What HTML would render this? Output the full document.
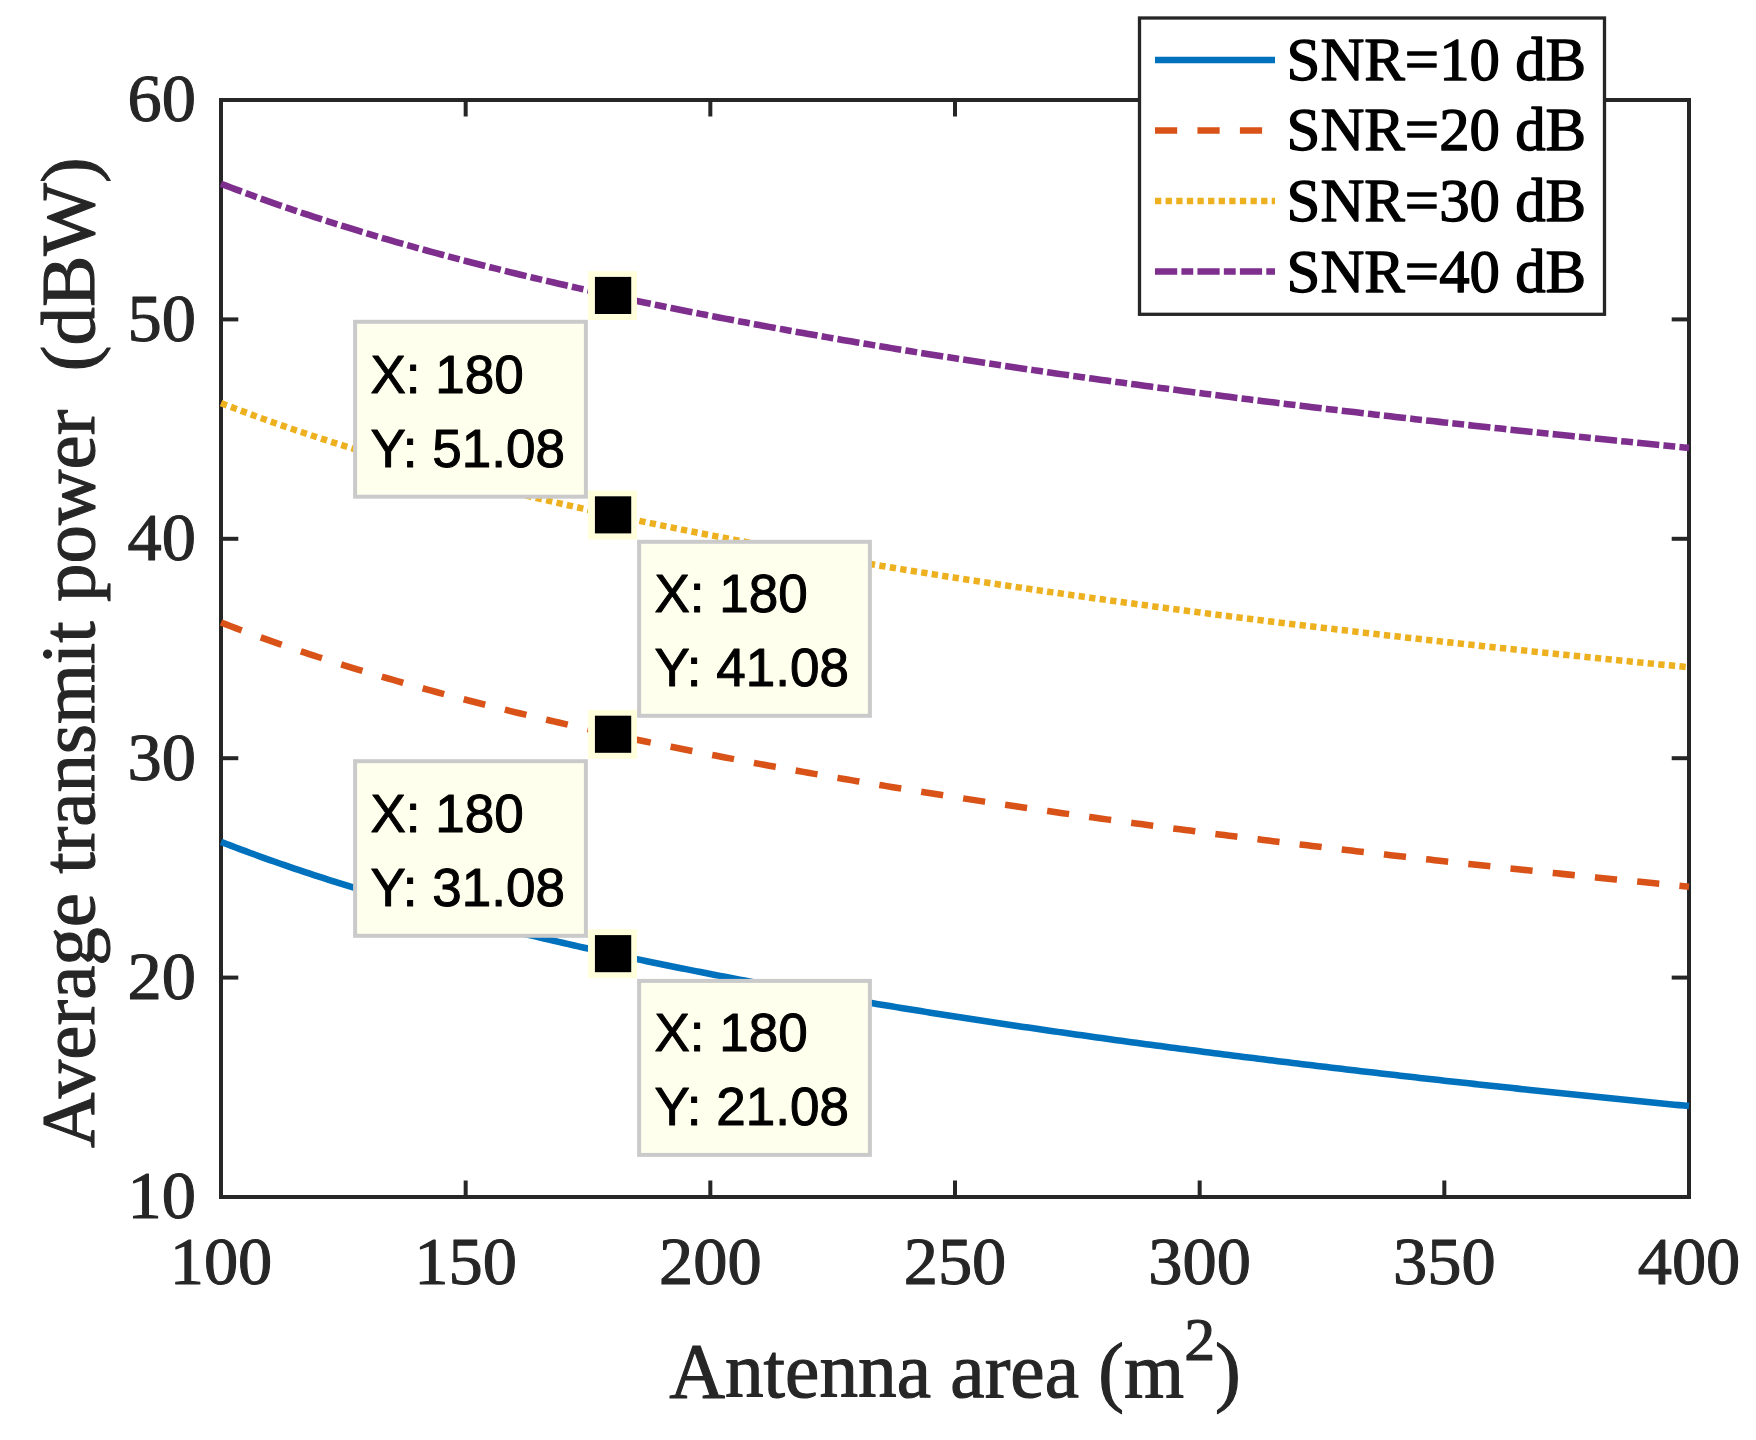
<!DOCTYPE html>
<html lang="en"><head><meta charset="utf-8"><title>Average transmit power vs antenna area</title>
<style>html,body{margin:0;padding:0;background:#fff;}body{width:1756px;height:1440px;overflow:hidden;}svg{display:block;}.t{font-family:"Liberation Serif","Times New Roman",serif;fill:#262626;stroke:#262626;stroke-width:1.1px;stroke-linejoin:round;}.g{font-family:"Liberation Serif","Times New Roman",serif;fill:#000;stroke:#000;stroke-width:1.3px;stroke-linejoin:round;}.d{font-family:"Liberation Sans",Arial,sans-serif;fill:#000;stroke:#000;stroke-width:1.0px;stroke-linejoin:round;}</style></head><body>
<svg width="1756" height="1440" viewBox="0 0 1756 1440">
<rect x="0" y="0" width="1756" height="1440" fill="#ffffff"/>
<g stroke="#262626" stroke-width="4.0" fill="none" stroke-linecap="butt">
<rect x="221.0" y="100.0" width="1468.0" height="1097.0"/>
<line x1="465.67" y1="1197.0" x2="465.67" y2="1180.50"/>
<line x1="465.67" y1="100.0" x2="465.67" y2="116.50"/>
<line x1="710.33" y1="1197.0" x2="710.33" y2="1180.50"/>
<line x1="710.33" y1="100.0" x2="710.33" y2="116.50"/>
<line x1="955.00" y1="1197.0" x2="955.00" y2="1180.50"/>
<line x1="955.00" y1="100.0" x2="955.00" y2="116.50"/>
<line x1="1199.67" y1="1197.0" x2="1199.67" y2="1180.50"/>
<line x1="1199.67" y1="100.0" x2="1199.67" y2="116.50"/>
<line x1="1444.33" y1="1197.0" x2="1444.33" y2="1180.50"/>
<line x1="1444.33" y1="100.0" x2="1444.33" y2="116.50"/>
<line x1="221.0" y1="977.60" x2="238.30" y2="977.60"/>
<line x1="1689.0" y1="977.60" x2="1671.70" y2="977.60"/>
<line x1="221.0" y1="758.20" x2="238.30" y2="758.20"/>
<line x1="1689.0" y1="758.20" x2="1671.70" y2="758.20"/>
<line x1="221.0" y1="538.80" x2="238.30" y2="538.80"/>
<line x1="1689.0" y1="538.80" x2="1671.70" y2="538.80"/>
<line x1="221.0" y1="319.40" x2="238.30" y2="319.40"/>
<line x1="1689.0" y1="319.40" x2="1671.70" y2="319.40"/>
</g>
<g class="t" font-size="68.4" text-anchor="middle">
<text x="221.00" y="1283.8">100</text>
<text x="465.67" y="1283.8">150</text>
<text x="710.33" y="1283.8">200</text>
<text x="955.00" y="1283.8">250</text>
<text x="1199.67" y="1283.8">300</text>
<text x="1444.33" y="1283.8">350</text>
<text x="1689.00" y="1283.8">400</text>
</g>
<g class="t" font-size="68.4" text-anchor="end">
<text x="196" y="1218.40">10</text>
<text x="196" y="999.00">20</text>
<text x="196" y="779.60">30</text>
<text x="196" y="560.20">40</text>
<text x="196" y="340.80">50</text>
<text x="196" y="121.40">60</text>
</g>
<text class="t" font-size="77.3" text-anchor="middle" x="955" y="1396.6">Antenna area (m<tspan font-size="61.84" dy="-37">2</tspan><tspan dy="37">)</tspan></text>
<text class="t" font-size="77.0" text-anchor="middle" xml:space="preserve" transform="translate(94.2,652.7) rotate(-90)">Average transmit power  (dBW)</text>
<path d="M221.00 841.89 L225.89 843.79 L230.79 845.66 L235.68 847.52 L240.57 849.37 L245.47 851.19 L250.36 853.00 L255.25 854.78 L260.15 856.56 L265.04 858.31 L269.93 860.05 L274.83 861.78 L279.72 863.49 L284.61 865.18 L289.51 866.86 L294.40 868.53 L299.29 870.18 L304.19 871.81 L309.08 873.43 L313.97 875.04 L318.87 876.64 L323.76 878.22 L328.65 879.79 L333.55 881.34 L338.44 882.88 L343.33 884.42 L348.23 885.93 L353.12 887.44 L358.01 888.93 L362.91 890.42 L367.80 891.89 L372.69 893.35 L377.59 894.80 L382.48 896.24 L387.37 897.66 L392.27 899.08 L397.16 900.49 L402.05 901.88 L406.95 903.27 L411.84 904.65 L416.73 906.01 L421.63 907.37 L426.52 908.72 L431.41 910.05 L436.31 911.38 L441.20 912.70 L446.09 914.01 L450.99 915.31 L455.88 916.60 L460.77 917.89 L465.67 919.16 L470.56 920.43 L475.45 921.68 L480.35 922.93 L485.24 924.18 L490.13 925.41 L495.03 926.63 L499.92 927.85 L504.81 929.06 L509.71 930.26 L514.60 931.46 L519.49 932.65 L524.39 933.83 L529.28 935.00 L534.17 936.16 L539.07 937.32 L543.96 938.47 L548.85 939.62 L553.75 940.76 L558.64 941.89 L563.53 943.01 L568.43 944.13 L573.32 945.24 L578.21 946.35 L583.11 947.44 L588.00 948.54 L592.89 949.62 L597.79 950.70 L602.68 951.78 L607.57 952.84 L612.47 953.90 L617.36 954.96 L622.25 956.01 L627.15 957.05 L632.04 958.09 L636.93 959.13 L641.83 960.15 L646.72 961.18 L651.61 962.19 L656.51 963.20 L661.40 964.21 L666.29 965.21 L671.19 966.20 L676.08 967.19 L680.97 968.18 L685.87 969.16 L690.76 970.13 L695.65 971.10 L700.55 972.07 L705.44 973.03 L710.33 973.98 L715.23 974.93 L720.12 975.88 L725.01 976.82 L729.91 977.76 L734.80 978.69 L739.69 979.62 L744.59 980.54 L749.48 981.46 L754.37 982.37 L759.27 983.28 L764.16 984.19 L769.05 985.09 L773.95 985.98 L778.84 986.88 L783.73 987.77 L788.63 988.65 L793.52 989.53 L798.41 990.41 L803.31 991.28 L808.20 992.15 L813.09 993.01 L817.99 993.87 L822.88 994.73 L827.77 995.58 L832.67 996.43 L837.56 997.27 L842.45 998.12 L847.35 998.95 L852.24 999.79 L857.13 1000.62 L862.03 1001.44 L866.92 1002.27 L871.81 1003.09 L876.71 1003.90 L881.60 1004.72 L886.49 1005.53 L891.39 1006.33 L896.28 1007.13 L901.17 1007.93 L906.07 1008.73 L910.96 1009.52 L915.85 1010.31 L920.75 1011.10 L925.64 1011.88 L930.53 1012.66 L935.43 1013.43 L940.32 1014.21 L945.21 1014.98 L950.11 1015.74 L955.00 1016.51 L959.89 1017.27 L964.79 1018.03 L969.68 1018.78 L974.57 1019.53 L979.47 1020.28 L984.36 1021.03 L989.25 1021.77 L994.15 1022.51 L999.04 1023.25 L1003.93 1023.98 L1008.83 1024.71 L1013.72 1025.44 L1018.61 1026.17 L1023.51 1026.89 L1028.40 1027.61 L1033.29 1028.33 L1038.19 1029.04 L1043.08 1029.76 L1047.97 1030.47 L1052.87 1031.17 L1057.76 1031.88 L1062.65 1032.58 L1067.55 1033.28 L1072.44 1033.98 L1077.33 1034.67 L1082.23 1035.36 L1087.12 1036.05 L1092.01 1036.74 L1096.91 1037.42 L1101.80 1038.10 L1106.69 1038.78 L1111.59 1039.46 L1116.48 1040.14 L1121.37 1040.81 L1126.27 1041.48 L1131.16 1042.14 L1136.05 1042.81 L1140.95 1043.47 L1145.84 1044.13 L1150.73 1044.79 L1155.63 1045.45 L1160.52 1046.10 L1165.41 1046.75 L1170.31 1047.40 L1175.20 1048.05 L1180.09 1048.69 L1184.99 1049.34 L1189.88 1049.98 L1194.77 1050.62 L1199.67 1051.25 L1204.56 1051.89 L1209.45 1052.52 L1214.35 1053.15 L1219.24 1053.78 L1224.13 1054.40 L1229.03 1055.03 L1233.92 1055.65 L1238.81 1056.27 L1243.71 1056.89 L1248.60 1057.50 L1253.49 1058.11 L1258.39 1058.73 L1263.28 1059.34 L1268.17 1059.94 L1273.07 1060.55 L1277.96 1061.15 L1282.85 1061.76 L1287.75 1062.36 L1292.64 1062.95 L1297.53 1063.55 L1302.43 1064.15 L1307.32 1064.74 L1312.21 1065.33 L1317.11 1065.92 L1322.00 1066.51 L1326.89 1067.09 L1331.79 1067.67 L1336.68 1068.26 L1341.57 1068.84 L1346.47 1069.42 L1351.36 1069.99 L1356.25 1070.57 L1361.15 1071.14 L1366.04 1071.71 L1370.93 1072.28 L1375.83 1072.85 L1380.72 1073.42 L1385.61 1073.98 L1390.51 1074.54 L1395.40 1075.10 L1400.29 1075.66 L1405.19 1076.22 L1410.08 1076.78 L1414.97 1077.33 L1419.87 1077.89 L1424.76 1078.44 L1429.65 1078.99 L1434.55 1079.54 L1439.44 1080.08 L1444.33 1080.63 L1449.23 1081.17 L1454.12 1081.71 L1459.01 1082.25 L1463.91 1082.79 L1468.80 1083.33 L1473.69 1083.87 L1478.59 1084.40 L1483.48 1084.94 L1488.37 1085.47 L1493.27 1086.00 L1498.16 1086.53 L1503.05 1087.05 L1507.95 1087.58 L1512.84 1088.10 L1517.73 1088.63 L1522.63 1089.15 L1527.52 1089.67 L1532.41 1090.19 L1537.31 1090.70 L1542.20 1091.22 L1547.09 1091.73 L1551.99 1092.25 L1556.88 1092.76 L1561.77 1093.27 L1566.67 1093.78 L1571.56 1094.28 L1576.45 1094.79 L1581.35 1095.29 L1586.24 1095.80 L1591.13 1096.30 L1596.03 1096.80 L1600.92 1097.30 L1605.81 1097.80 L1610.71 1098.30 L1615.60 1098.79 L1620.49 1099.29 L1625.39 1099.78 L1630.28 1100.27 L1635.17 1100.76 L1640.07 1101.25 L1644.96 1101.74 L1649.85 1102.23 L1654.75 1102.71 L1659.64 1103.19 L1664.53 1103.68 L1669.43 1104.16 L1674.32 1104.64 L1679.21 1105.12 L1684.11 1105.60 L1689.00 1106.08" fill="none" stroke="#0072BD" stroke-width="6.55" stroke-linecap="butt" stroke-linejoin="round"/>
<path d="M221.00 622.49 L225.89 624.39 L230.79 626.26 L235.68 628.12 L240.57 629.97 L245.47 631.79 L250.36 633.60 L255.25 635.38 L260.15 637.16 L265.04 638.91 L269.93 640.65 L274.83 642.38 L279.72 644.09 L284.61 645.78 L289.51 647.46 L294.40 649.13 L299.29 650.78 L304.19 652.41 L309.08 654.03 L313.97 655.64 L318.87 657.24 L323.76 658.82 L328.65 660.39 L333.55 661.94 L338.44 663.48 L343.33 665.02 L348.23 666.53 L353.12 668.04 L358.01 669.53 L362.91 671.02 L367.80 672.49 L372.69 673.95 L377.59 675.40 L382.48 676.84 L387.37 678.26 L392.27 679.68 L397.16 681.09 L402.05 682.48 L406.95 683.87 L411.84 685.25 L416.73 686.61 L421.63 687.97 L426.52 689.32 L431.41 690.65 L436.31 691.98 L441.20 693.30 L446.09 694.61 L450.99 695.91 L455.88 697.20 L460.77 698.49 L465.67 699.76 L470.56 701.03 L475.45 702.28 L480.35 703.53 L485.24 704.78 L490.13 706.01 L495.03 707.23 L499.92 708.45 L504.81 709.66 L509.71 710.86 L514.60 712.06 L519.49 713.25 L524.39 714.43 L529.28 715.60 L534.17 716.76 L539.07 717.92 L543.96 719.07 L548.85 720.22 L553.75 721.36 L558.64 722.49 L563.53 723.61 L568.43 724.73 L573.32 725.84 L578.21 726.95 L583.11 728.04 L588.00 729.14 L592.89 730.22 L597.79 731.30 L602.68 732.38 L607.57 733.44 L612.47 734.50 L617.36 735.56 L622.25 736.61 L627.15 737.65 L632.04 738.69 L636.93 739.73 L641.83 740.75 L646.72 741.78 L651.61 742.79 L656.51 743.80 L661.40 744.81 L666.29 745.81 L671.19 746.80 L676.08 747.79 L680.97 748.78 L685.87 749.76 L690.76 750.73 L695.65 751.70 L700.55 752.67 L705.44 753.63 L710.33 754.58 L715.23 755.53 L720.12 756.48 L725.01 757.42 L729.91 758.36 L734.80 759.29 L739.69 760.22 L744.59 761.14 L749.48 762.06 L754.37 762.97 L759.27 763.88 L764.16 764.79 L769.05 765.69 L773.95 766.58 L778.84 767.48 L783.73 768.37 L788.63 769.25 L793.52 770.13 L798.41 771.01 L803.31 771.88 L808.20 772.75 L813.09 773.61 L817.99 774.47 L822.88 775.33 L827.77 776.18 L832.67 777.03 L837.56 777.87 L842.45 778.72 L847.35 779.55 L852.24 780.39 L857.13 781.22 L862.03 782.04 L866.92 782.87 L871.81 783.69 L876.71 784.50 L881.60 785.32 L886.49 786.13 L891.39 786.93 L896.28 787.73 L901.17 788.53 L906.07 789.33 L910.96 790.12 L915.85 790.91 L920.75 791.70 L925.64 792.48 L930.53 793.26 L935.43 794.03 L940.32 794.81 L945.21 795.58 L950.11 796.34 L955.00 797.11 L959.89 797.87 L964.79 798.63 L969.68 799.38 L974.57 800.13 L979.47 800.88 L984.36 801.63 L989.25 802.37 L994.15 803.11 L999.04 803.85 L1003.93 804.58 L1008.83 805.31 L1013.72 806.04 L1018.61 806.77 L1023.51 807.49 L1028.40 808.21 L1033.29 808.93 L1038.19 809.64 L1043.08 810.36 L1047.97 811.07 L1052.87 811.77 L1057.76 812.48 L1062.65 813.18 L1067.55 813.88 L1072.44 814.58 L1077.33 815.27 L1082.23 815.96 L1087.12 816.65 L1092.01 817.34 L1096.91 818.02 L1101.80 818.70 L1106.69 819.38 L1111.59 820.06 L1116.48 820.74 L1121.37 821.41 L1126.27 822.08 L1131.16 822.74 L1136.05 823.41 L1140.95 824.07 L1145.84 824.73 L1150.73 825.39 L1155.63 826.05 L1160.52 826.70 L1165.41 827.35 L1170.31 828.00 L1175.20 828.65 L1180.09 829.29 L1184.99 829.94 L1189.88 830.58 L1194.77 831.22 L1199.67 831.85 L1204.56 832.49 L1209.45 833.12 L1214.35 833.75 L1219.24 834.38 L1224.13 835.00 L1229.03 835.63 L1233.92 836.25 L1238.81 836.87 L1243.71 837.49 L1248.60 838.10 L1253.49 838.71 L1258.39 839.33 L1263.28 839.94 L1268.17 840.54 L1273.07 841.15 L1277.96 841.75 L1282.85 842.36 L1287.75 842.96 L1292.64 843.55 L1297.53 844.15 L1302.43 844.75 L1307.32 845.34 L1312.21 845.93 L1317.11 846.52 L1322.00 847.11 L1326.89 847.69 L1331.79 848.27 L1336.68 848.86 L1341.57 849.44 L1346.47 850.02 L1351.36 850.59 L1356.25 851.17 L1361.15 851.74 L1366.04 852.31 L1370.93 852.88 L1375.83 853.45 L1380.72 854.02 L1385.61 854.58 L1390.51 855.14 L1395.40 855.70 L1400.29 856.26 L1405.19 856.82 L1410.08 857.38 L1414.97 857.93 L1419.87 858.49 L1424.76 859.04 L1429.65 859.59 L1434.55 860.14 L1439.44 860.68 L1444.33 861.23 L1449.23 861.77 L1454.12 862.31 L1459.01 862.85 L1463.91 863.39 L1468.80 863.93 L1473.69 864.47 L1478.59 865.00 L1483.48 865.54 L1488.37 866.07 L1493.27 866.60 L1498.16 867.13 L1503.05 867.65 L1507.95 868.18 L1512.84 868.70 L1517.73 869.23 L1522.63 869.75 L1527.52 870.27 L1532.41 870.79 L1537.31 871.30 L1542.20 871.82 L1547.09 872.33 L1551.99 872.85 L1556.88 873.36 L1561.77 873.87 L1566.67 874.38 L1571.56 874.88 L1576.45 875.39 L1581.35 875.89 L1586.24 876.40 L1591.13 876.90 L1596.03 877.40 L1600.92 877.90 L1605.81 878.40 L1610.71 878.90 L1615.60 879.39 L1620.49 879.89 L1625.39 880.38 L1630.28 880.87 L1635.17 881.36 L1640.07 881.85 L1644.96 882.34 L1649.85 882.83 L1654.75 883.31 L1659.64 883.79 L1664.53 884.28 L1669.43 884.76 L1674.32 885.24 L1679.21 885.72 L1684.11 886.20 L1689.00 886.68" fill="none" stroke="#D95319" stroke-width="6.55" stroke-linecap="butt" stroke-linejoin="round" stroke-dasharray="22.2 20.25"/>
<path d="M221.00 403.09 L225.89 404.99 L230.79 406.86 L235.68 408.72 L240.57 410.57 L245.47 412.39 L250.36 414.20 L255.25 415.98 L260.15 417.76 L265.04 419.51 L269.93 421.25 L274.83 422.98 L279.72 424.69 L284.61 426.38 L289.51 428.06 L294.40 429.73 L299.29 431.38 L304.19 433.01 L309.08 434.63 L313.97 436.24 L318.87 437.84 L323.76 439.42 L328.65 440.99 L333.55 442.54 L338.44 444.08 L343.33 445.62 L348.23 447.13 L353.12 448.64 L358.01 450.13 L362.91 451.62 L367.80 453.09 L372.69 454.55 L377.59 456.00 L382.48 457.44 L387.37 458.86 L392.27 460.28 L397.16 461.69 L402.05 463.08 L406.95 464.47 L411.84 465.85 L416.73 467.21 L421.63 468.57 L426.52 469.92 L431.41 471.25 L436.31 472.58 L441.20 473.90 L446.09 475.21 L450.99 476.51 L455.88 477.80 L460.77 479.09 L465.67 480.36 L470.56 481.63 L475.45 482.88 L480.35 484.13 L485.24 485.38 L490.13 486.61 L495.03 487.83 L499.92 489.05 L504.81 490.26 L509.71 491.46 L514.60 492.66 L519.49 493.85 L524.39 495.03 L529.28 496.20 L534.17 497.36 L539.07 498.52 L543.96 499.67 L548.85 500.82 L553.75 501.96 L558.64 503.09 L563.53 504.21 L568.43 505.33 L573.32 506.44 L578.21 507.55 L583.11 508.64 L588.00 509.74 L592.89 510.82 L597.79 511.90 L602.68 512.98 L607.57 514.04 L612.47 515.10 L617.36 516.16 L622.25 517.21 L627.15 518.25 L632.04 519.29 L636.93 520.33 L641.83 521.35 L646.72 522.38 L651.61 523.39 L656.51 524.40 L661.40 525.41 L666.29 526.41 L671.19 527.40 L676.08 528.39 L680.97 529.38 L685.87 530.36 L690.76 531.33 L695.65 532.30 L700.55 533.27 L705.44 534.23 L710.33 535.18 L715.23 536.13 L720.12 537.08 L725.01 538.02 L729.91 538.96 L734.80 539.89 L739.69 540.82 L744.59 541.74 L749.48 542.66 L754.37 543.57 L759.27 544.48 L764.16 545.39 L769.05 546.29 L773.95 547.18 L778.84 548.08 L783.73 548.97 L788.63 549.85 L793.52 550.73 L798.41 551.61 L803.31 552.48 L808.20 553.35 L813.09 554.21 L817.99 555.07 L822.88 555.93 L827.77 556.78 L832.67 557.63 L837.56 558.47 L842.45 559.32 L847.35 560.15 L852.24 560.99 L857.13 561.82 L862.03 562.64 L866.92 563.47 L871.81 564.29 L876.71 565.10 L881.60 565.92 L886.49 566.73 L891.39 567.53 L896.28 568.33 L901.17 569.13 L906.07 569.93 L910.96 570.72 L915.85 571.51 L920.75 572.30 L925.64 573.08 L930.53 573.86 L935.43 574.63 L940.32 575.41 L945.21 576.18 L950.11 576.94 L955.00 577.71 L959.89 578.47 L964.79 579.23 L969.68 579.98 L974.57 580.73 L979.47 581.48 L984.36 582.23 L989.25 582.97 L994.15 583.71 L999.04 584.45 L1003.93 585.18 L1008.83 585.91 L1013.72 586.64 L1018.61 587.37 L1023.51 588.09 L1028.40 588.81 L1033.29 589.53 L1038.19 590.24 L1043.08 590.96 L1047.97 591.67 L1052.87 592.37 L1057.76 593.08 L1062.65 593.78 L1067.55 594.48 L1072.44 595.18 L1077.33 595.87 L1082.23 596.56 L1087.12 597.25 L1092.01 597.94 L1096.91 598.62 L1101.80 599.30 L1106.69 599.98 L1111.59 600.66 L1116.48 601.34 L1121.37 602.01 L1126.27 602.68 L1131.16 603.34 L1136.05 604.01 L1140.95 604.67 L1145.84 605.33 L1150.73 605.99 L1155.63 606.65 L1160.52 607.30 L1165.41 607.95 L1170.31 608.60 L1175.20 609.25 L1180.09 609.89 L1184.99 610.54 L1189.88 611.18 L1194.77 611.82 L1199.67 612.45 L1204.56 613.09 L1209.45 613.72 L1214.35 614.35 L1219.24 614.98 L1224.13 615.60 L1229.03 616.23 L1233.92 616.85 L1238.81 617.47 L1243.71 618.09 L1248.60 618.70 L1253.49 619.31 L1258.39 619.93 L1263.28 620.54 L1268.17 621.14 L1273.07 621.75 L1277.96 622.35 L1282.85 622.96 L1287.75 623.56 L1292.64 624.15 L1297.53 624.75 L1302.43 625.35 L1307.32 625.94 L1312.21 626.53 L1317.11 627.12 L1322.00 627.71 L1326.89 628.29 L1331.79 628.87 L1336.68 629.46 L1341.57 630.04 L1346.47 630.62 L1351.36 631.19 L1356.25 631.77 L1361.15 632.34 L1366.04 632.91 L1370.93 633.48 L1375.83 634.05 L1380.72 634.62 L1385.61 635.18 L1390.51 635.74 L1395.40 636.30 L1400.29 636.86 L1405.19 637.42 L1410.08 637.98 L1414.97 638.53 L1419.87 639.09 L1424.76 639.64 L1429.65 640.19 L1434.55 640.74 L1439.44 641.28 L1444.33 641.83 L1449.23 642.37 L1454.12 642.91 L1459.01 643.45 L1463.91 643.99 L1468.80 644.53 L1473.69 645.07 L1478.59 645.60 L1483.48 646.14 L1488.37 646.67 L1493.27 647.20 L1498.16 647.73 L1503.05 648.25 L1507.95 648.78 L1512.84 649.30 L1517.73 649.83 L1522.63 650.35 L1527.52 650.87 L1532.41 651.39 L1537.31 651.90 L1542.20 652.42 L1547.09 652.93 L1551.99 653.45 L1556.88 653.96 L1561.77 654.47 L1566.67 654.98 L1571.56 655.48 L1576.45 655.99 L1581.35 656.49 L1586.24 657.00 L1591.13 657.50 L1596.03 658.00 L1600.92 658.50 L1605.81 659.00 L1610.71 659.50 L1615.60 659.99 L1620.49 660.49 L1625.39 660.98 L1630.28 661.47 L1635.17 661.96 L1640.07 662.45 L1644.96 662.94 L1649.85 663.43 L1654.75 663.91 L1659.64 664.39 L1664.53 664.88 L1669.43 665.36 L1674.32 665.84 L1679.21 666.32 L1684.11 666.80 L1689.00 667.28" fill="none" stroke="#EDB120" stroke-width="6.55" stroke-linecap="butt" stroke-linejoin="round" stroke-dasharray="6.3 4.3125"/>
<path d="M221.00 183.69 L225.89 185.59 L230.79 187.46 L235.68 189.32 L240.57 191.17 L245.47 192.99 L250.36 194.80 L255.25 196.58 L260.15 198.36 L265.04 200.11 L269.93 201.85 L274.83 203.58 L279.72 205.29 L284.61 206.98 L289.51 208.66 L294.40 210.33 L299.29 211.98 L304.19 213.61 L309.08 215.23 L313.97 216.84 L318.87 218.44 L323.76 220.02 L328.65 221.59 L333.55 223.14 L338.44 224.68 L343.33 226.22 L348.23 227.73 L353.12 229.24 L358.01 230.73 L362.91 232.22 L367.80 233.69 L372.69 235.15 L377.59 236.60 L382.48 238.04 L387.37 239.46 L392.27 240.88 L397.16 242.29 L402.05 243.68 L406.95 245.07 L411.84 246.45 L416.73 247.81 L421.63 249.17 L426.52 250.52 L431.41 251.85 L436.31 253.18 L441.20 254.50 L446.09 255.81 L450.99 257.11 L455.88 258.40 L460.77 259.69 L465.67 260.96 L470.56 262.23 L475.45 263.48 L480.35 264.73 L485.24 265.98 L490.13 267.21 L495.03 268.43 L499.92 269.65 L504.81 270.86 L509.71 272.06 L514.60 273.26 L519.49 274.45 L524.39 275.63 L529.28 276.80 L534.17 277.96 L539.07 279.12 L543.96 280.27 L548.85 281.42 L553.75 282.56 L558.64 283.69 L563.53 284.81 L568.43 285.93 L573.32 287.04 L578.21 288.15 L583.11 289.24 L588.00 290.34 L592.89 291.42 L597.79 292.50 L602.68 293.58 L607.57 294.64 L612.47 295.70 L617.36 296.76 L622.25 297.81 L627.15 298.85 L632.04 299.89 L636.93 300.93 L641.83 301.95 L646.72 302.98 L651.61 303.99 L656.51 305.00 L661.40 306.01 L666.29 307.01 L671.19 308.00 L676.08 308.99 L680.97 309.98 L685.87 310.96 L690.76 311.93 L695.65 312.90 L700.55 313.87 L705.44 314.83 L710.33 315.78 L715.23 316.73 L720.12 317.68 L725.01 318.62 L729.91 319.56 L734.80 320.49 L739.69 321.42 L744.59 322.34 L749.48 323.26 L754.37 324.17 L759.27 325.08 L764.16 325.99 L769.05 326.89 L773.95 327.78 L778.84 328.68 L783.73 329.57 L788.63 330.45 L793.52 331.33 L798.41 332.21 L803.31 333.08 L808.20 333.95 L813.09 334.81 L817.99 335.67 L822.88 336.53 L827.77 337.38 L832.67 338.23 L837.56 339.07 L842.45 339.92 L847.35 340.75 L852.24 341.59 L857.13 342.42 L862.03 343.24 L866.92 344.07 L871.81 344.89 L876.71 345.70 L881.60 346.52 L886.49 347.33 L891.39 348.13 L896.28 348.93 L901.17 349.73 L906.07 350.53 L910.96 351.32 L915.85 352.11 L920.75 352.90 L925.64 353.68 L930.53 354.46 L935.43 355.23 L940.32 356.01 L945.21 356.78 L950.11 357.54 L955.00 358.31 L959.89 359.07 L964.79 359.83 L969.68 360.58 L974.57 361.33 L979.47 362.08 L984.36 362.83 L989.25 363.57 L994.15 364.31 L999.04 365.05 L1003.93 365.78 L1008.83 366.51 L1013.72 367.24 L1018.61 367.97 L1023.51 368.69 L1028.40 369.41 L1033.29 370.13 L1038.19 370.84 L1043.08 371.56 L1047.97 372.27 L1052.87 372.97 L1057.76 373.68 L1062.65 374.38 L1067.55 375.08 L1072.44 375.78 L1077.33 376.47 L1082.23 377.16 L1087.12 377.85 L1092.01 378.54 L1096.91 379.22 L1101.80 379.90 L1106.69 380.58 L1111.59 381.26 L1116.48 381.94 L1121.37 382.61 L1126.27 383.28 L1131.16 383.94 L1136.05 384.61 L1140.95 385.27 L1145.84 385.93 L1150.73 386.59 L1155.63 387.25 L1160.52 387.90 L1165.41 388.55 L1170.31 389.20 L1175.20 389.85 L1180.09 390.49 L1184.99 391.14 L1189.88 391.78 L1194.77 392.42 L1199.67 393.05 L1204.56 393.69 L1209.45 394.32 L1214.35 394.95 L1219.24 395.58 L1224.13 396.20 L1229.03 396.83 L1233.92 397.45 L1238.81 398.07 L1243.71 398.69 L1248.60 399.30 L1253.49 399.91 L1258.39 400.53 L1263.28 401.14 L1268.17 401.74 L1273.07 402.35 L1277.96 402.95 L1282.85 403.56 L1287.75 404.16 L1292.64 404.75 L1297.53 405.35 L1302.43 405.95 L1307.32 406.54 L1312.21 407.13 L1317.11 407.72 L1322.00 408.31 L1326.89 408.89 L1331.79 409.47 L1336.68 410.06 L1341.57 410.64 L1346.47 411.22 L1351.36 411.79 L1356.25 412.37 L1361.15 412.94 L1366.04 413.51 L1370.93 414.08 L1375.83 414.65 L1380.72 415.22 L1385.61 415.78 L1390.51 416.34 L1395.40 416.90 L1400.29 417.46 L1405.19 418.02 L1410.08 418.58 L1414.97 419.13 L1419.87 419.69 L1424.76 420.24 L1429.65 420.79 L1434.55 421.34 L1439.44 421.88 L1444.33 422.43 L1449.23 422.97 L1454.12 423.51 L1459.01 424.05 L1463.91 424.59 L1468.80 425.13 L1473.69 425.67 L1478.59 426.20 L1483.48 426.74 L1488.37 427.27 L1493.27 427.80 L1498.16 428.33 L1503.05 428.85 L1507.95 429.38 L1512.84 429.90 L1517.73 430.43 L1522.63 430.95 L1527.52 431.47 L1532.41 431.99 L1537.31 432.50 L1542.20 433.02 L1547.09 433.53 L1551.99 434.05 L1556.88 434.56 L1561.77 435.07 L1566.67 435.58 L1571.56 436.08 L1576.45 436.59 L1581.35 437.09 L1586.24 437.60 L1591.13 438.10 L1596.03 438.60 L1600.92 439.10 L1605.81 439.60 L1610.71 440.10 L1615.60 440.59 L1620.49 441.09 L1625.39 441.58 L1630.28 442.07 L1635.17 442.56 L1640.07 443.05 L1644.96 443.54 L1649.85 444.03 L1654.75 444.51 L1659.64 444.99 L1664.53 445.48 L1669.43 445.96 L1674.32 446.44 L1679.21 446.92 L1684.11 447.40 L1689.00 447.88" fill="none" stroke="#7E2F8E" stroke-width="6.55" stroke-linecap="butt" stroke-linejoin="round" stroke-dasharray="22.2 4.2 11.85 4.20"/>
<rect x="587.97" y="271.10" width="49" height="49" fill="#FFFFDC"/>
<rect x="594.92" y="276.90" width="36.3" height="37.1" fill="#000"/>
<rect x="587.97" y="490.50" width="49" height="49" fill="#FFFFDC"/>
<rect x="594.92" y="496.30" width="36.3" height="37.1" fill="#000"/>
<rect x="587.97" y="709.90" width="49" height="49" fill="#FFFFDC"/>
<rect x="594.92" y="715.70" width="36.3" height="37.1" fill="#000"/>
<rect x="587.97" y="929.30" width="49" height="49" fill="#FFFFDC"/>
<rect x="594.92" y="935.10" width="36.3" height="37.1" fill="#000"/>
<rect x="355.1" y="321.8" width="230.8" height="174.9" fill="#FFFFEE" stroke="#CACACA" stroke-width="4"/>
<text class="d" font-size="53.0" x="370.4" y="393.3">X: 180</text>
<text class="d" font-size="53.0" x="370.4" y="466.9">Y: 51.08</text>
<rect x="639.1" y="541.8" width="230.8" height="174.0" fill="#FFFFEE" stroke="#CACACA" stroke-width="4"/>
<text class="d" font-size="53.0" x="654.4" y="611.5">X: 180</text>
<text class="d" font-size="53.0" x="654.4" y="685.7">Y: 41.08</text>
<rect x="355.1" y="761.2" width="230.8" height="174.6" fill="#FFFFEE" stroke="#CACACA" stroke-width="4"/>
<text class="d" font-size="53.0" x="370.4" y="831.5">X: 180</text>
<text class="d" font-size="53.0" x="370.4" y="905.6">Y: 31.08</text>
<rect x="639.1" y="980.9" width="230.8" height="174.0" fill="#FFFFEE" stroke="#CACACA" stroke-width="4"/>
<text class="d" font-size="53.0" x="654.4" y="1050.9">X: 180</text>
<text class="d" font-size="53.0" x="654.4" y="1124.7">Y: 21.08</text>
<rect x="1139.5" y="18" width="465" height="296.3" fill="#fff" stroke="#262626" stroke-width="3.3"/>
<line x1="1155" y1="59.90" x2="1275" y2="59.90" stroke="#0072BD" stroke-width="6.55"/>
<text class="g" font-size="60.8" x="1286.6" y="79.90">SNR=10 dB</text>
<line x1="1155" y1="130.45" x2="1275" y2="130.45" stroke="#D95319" stroke-width="6.55" stroke-dasharray="22.2 20.25"/>
<text class="g" font-size="60.8" x="1286.6" y="150.45">SNR=20 dB</text>
<line x1="1155" y1="201.00" x2="1275" y2="201.00" stroke="#EDB120" stroke-width="6.55" stroke-dasharray="6.3 4.3125"/>
<text class="g" font-size="60.8" x="1286.6" y="221.00">SNR=30 dB</text>
<line x1="1155" y1="271.55" x2="1275" y2="271.55" stroke="#7E2F8E" stroke-width="6.55" stroke-dasharray="22.2 4.2 11.85 4.20"/>
<text class="g" font-size="60.8" x="1286.6" y="291.55">SNR=40 dB</text>
</svg></body></html>
